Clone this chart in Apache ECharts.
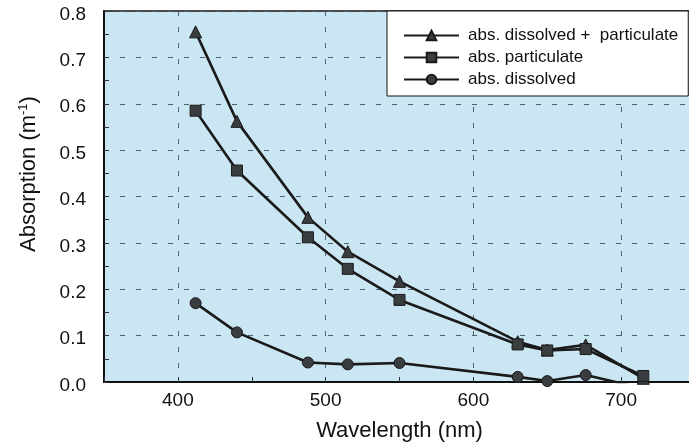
<!DOCTYPE html>
<html>
<head>
<meta charset="utf-8">
<script src="https://cdn.jsdelivr.net/npm/echarts@6/dist/echarts.min.js"></script>
<style>
  html, body { margin: 0; padding: 0; background: #ffffff; }
  #chart { width: 689px; height: 444px; }
</style>
</head>
<body>
<div id="chart"></div>
<script>
// Wavelengths (nm) of the measurement channels
const wavelengths = [412, 440, 488, 515, 550, 630, 650, 676, 715];

// Absorption coefficients (m^-1)
const absTotal       = [0.755, 0.562, 0.355, 0.281, 0.217, 0.087, 0.069, 0.080, 0.008];
const absParticulate = [0.585, 0.456, 0.312, 0.244, 0.177, 0.081, 0.068, 0.071, 0.013];
const absDissolved   = [0.170, 0.107, 0.042, 0.038, 0.041, 0.011, 0.002, 0.015, -0.014];

const seriesNames = ['abs. dissolved +  particulate', 'abs. particulate', 'abs. dissolved'];

const xTickLabels = [400, 500, 600, 700];
const yTickLabels = ['0.0', '0.1', '0.2', '0.3', '0.4', '0.5', '0.6', '0.7', '0.8'];

const FONT = 'Liberation Sans, Arial, Helvetica, sans-serif';
const INK = '#111111';
const GRID_DASH = '#4d6170';

const pairs = vals => wavelengths.map((w, i) => [w, vals[i]]);

const lineSeries = (name, vals, symbol, size) => ({
  name: name,
  type: 'line',
  data: pairs(vals),
  symbol: symbol,
  symbolSize: size,
  clip: true,
  lineStyle: { color: '#1a1a1a', width: 2.6 },
  itemStyle: { color: '#3a3d40', borderColor: '#1a1a1a', borderWidth: 1 },
  emphasis: { disabled: true },
  z: 3
});

const chart = echarts.init(document.getElementById('chart'), null, { renderer: 'canvas' });

chart.setOption({
  animation: false,
  backgroundColor: '#ffffff',
  grid: {
    left: 104,
    top: 11,
    width: 591,
    bottom: 62,
    outerBoundsMode: 'none',
    containLabel: false,
    show: true,
    backgroundColor: '#c9e6f2',
    borderColor: INK,
    borderWidth: 1.5
  },
  legend: {
    data: seriesNames,
    orient: 'vertical',
    left: 387,
    top: 11,
    itemWidth: 55,
    itemHeight: 12,
    itemGap: 5,
    padding: [16, 10, 8, 16],
    backgroundColor: '#ffffff',
    borderColor: INK,
    borderWidth: 1,
    selectedMode: false,
    textStyle: { fontFamily: FONT, fontSize: 17, color: INK, padding: [0, 0, 0, 4] }
  },
  xAxis: {
    type: 'value',
    min: 350,
    max: 750,
    interval: 50,
    axisLine: { show: true, onZero: false, lineStyle: { color: INK, width: 2 } },
    axisTick: { show: true, inside: true, length: 5, lineStyle: { color: '#333', width: 1 } },
    axisLabel: {
      margin: 9,
      fontFamily: FONT,
      fontSize: 19,
      color: INK,
      formatter: v => (xTickLabels.indexOf(v) >= 0 ? String(v) : '')
    },
    splitLine: {
      show: true,
      lineStyle: { color: ['rgba(0,0,0,0)', GRID_DASH], width: 1, type: [5, 11] }
    },
    name: 'Wavelength (nm)',
    nameLocation: 'middle',
    nameGap: 38,
    nameTextStyle: { fontFamily: FONT, fontSize: 22, color: INK }
  },
  yAxis: {
    type: 'value',
    min: 0,
    max: 0.8,
    interval: 0.05,
    axisLine: { show: true, onZero: false, lineStyle: { color: INK, width: 2 } },
    axisTick: { show: true, inside: true, length: 5, lineStyle: { color: '#333', width: 1 } },
    axisLabel: {
      margin: 18,
      fontFamily: FONT,
      fontSize: 19,
      color: INK,
      formatter: v => {
        const s = v.toFixed(1);
        const major = Math.abs(v * 10 - Math.round(v * 10)) < 1e-6 && yTickLabels.indexOf(s) >= 0;
        return major ? '{v|' + s + '}' : '';
      },
      rich: {
        v: { fontFamily: FONT, fontSize: 19, color: INK, padding: [7, 0, 0, 0] }
      }
    },
    splitLine: {
      show: true,
      lineStyle: { color: [GRID_DASH, 'rgba(0,0,0,0)'], width: 1, type: [5, 11] }
    },
    name: '{a|Absorption (m}{s|-1}{a|)}',
    nameLocation: 'middle',
    nameRotate: 90,
    nameGap: 64,
    nameTextStyle: {
      fontFamily: FONT,
      color: INK,
      padding: [0, 0, 0, 45],
      rich: {
        a: { fontFamily: FONT, fontSize: 22, color: INK, verticalAlign: 'bottom' },
        s: { fontFamily: FONT, fontSize: 13, color: INK, verticalAlign: 'top', padding: [0, 0, 10, 0] }
      }
    }
  },
  series: [
    lineSeries(seriesNames[0], absTotal, 'triangle', 12),
    lineSeries(seriesNames[1], absParticulate, 'rect', 11),
    lineSeries(seriesNames[2], absDissolved, 'circle', 11)
  ]
});
</script>
</body>
</html>
